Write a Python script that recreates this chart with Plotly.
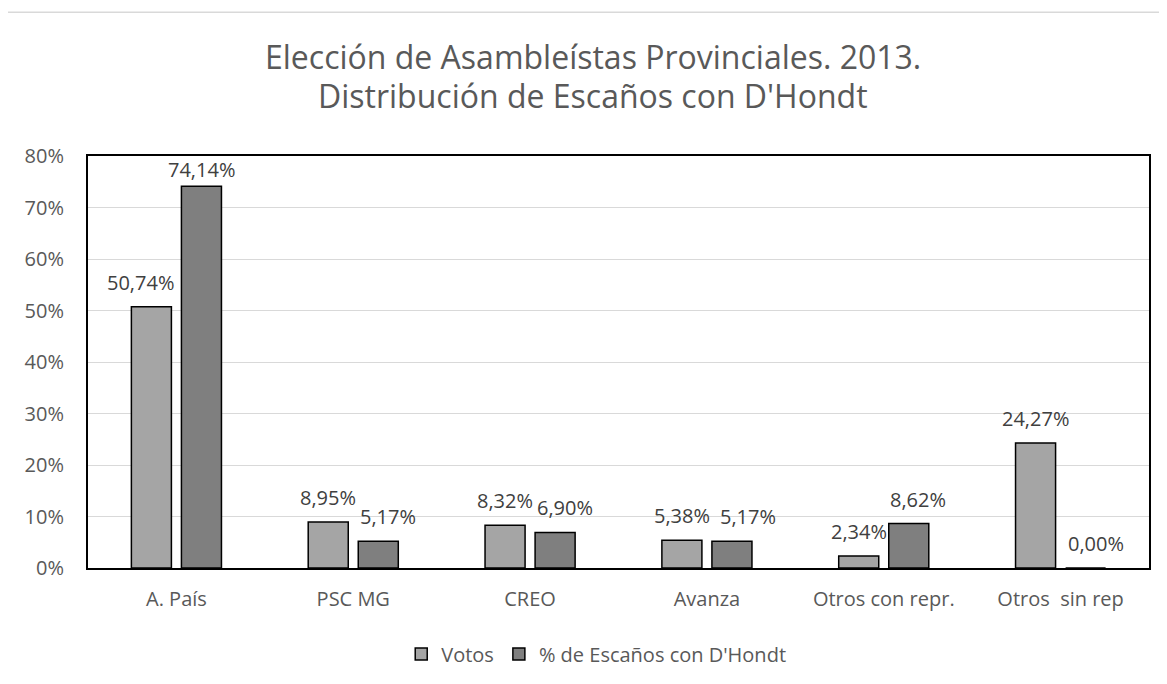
import plotly.graph_objects as go

categories = ["A. País", "PSC MG", "CREO", "Avanza", "Otros con repr.", "Otros  sin rep"]
votos = [50.74, 8.95, 8.32, 5.38, 2.34, 24.27]
escanos = [74.14, 5.17, 6.90, 5.17, 8.62, 0.00]
series_names = ["Votos", "% de Escaños con D'Hondt"]
y_ticks = [0, 10, 20, 30, 40, 50, 60, 70, 80]
y_ticktext = [f"{v}%" for v in y_ticks]

FONT = "Open Sans"
TXT = "#595959"

# small label nudges (px), as placed in the original chart
votos_dx = [-11, 0, 0, 0, 0, 0]
escanos_dx = [0, 10, 10, 16, 9, 10]
escanos_dy = [-8, 0, 0, 0, 0, 0]

fig = go.Figure()
fig.add_trace(go.Bar(x=categories, y=votos, name=series_names[0],
                     marker=dict(color="#a5a5a5", line=dict(color="#000000", width=1.5))))
fig.add_trace(go.Bar(x=categories, y=escanos, name=series_names[1],
                     marker=dict(color="#7f7f7f", line=dict(color="#000000", width=1.5))))

def fmt(v):
    return f"{v:.2f}%".replace(".", ",")

annotations = []
for i, (c, v) in enumerate(zip(categories, votos)):
    annotations.append(dict(x=c, y=v, xref="x", yref="y", text=fmt(v), showarrow=False,
                            xshift=-25 + votos_dx[i], yanchor="bottom", yshift=9,
                            font=dict(family=FONT, size=20, color="#404040")))
for i, (c, v) in enumerate(zip(categories, escanos)):
    annotations.append(dict(x=c, y=v, xref="x", yref="y", text=fmt(v), showarrow=False,
                            xshift=25 + escanos_dx[i], yanchor="bottom", yshift=9 + escanos_dy[i],
                            font=dict(family=FONT, size=20, color="#404040")))

annotations.append(dict(x=0.476, y=1.242, xref="paper", yref="paper", xanchor="center", yanchor="middle",
                        text="Elección de Asambleístas Provinciales. 2013.", showarrow=False,
                        font=dict(family=FONT, size=32, color=TXT)))
annotations.append(dict(x=0.476, y=1.148, xref="paper", yref="paper", xanchor="center", yanchor="middle",
                        text="Distribución de Escaños con D'Hondt", showarrow=False,
                        font=dict(family=FONT, size=32, color=TXT)))

fig.update_layout(
    width=1159, height=676,
    margin=dict(l=80, r=18, t=148, b=115),
    paper_bgcolor="white", plot_bgcolor="white",
    barmode="group", bargap=0.434, bargroupgap=0.2,
    font=dict(family=FONT, color=TXT, size=20),
    showlegend=True,
    legend=dict(orientation="h", x=0.479, xanchor="center", y=-0.206, yanchor="middle",
                font=dict(family=FONT, size=20, color=TXT), itemwidth=30),
    annotations=annotations,
    shapes=[dict(type="rect", xref="paper", yref="paper", x0=-0.0763, y0=-0.4, x1=1.05, y1=1.3487,
                 line=dict(color="#d9d9d9", width=1.5), layer="below")],
)
fig.update_yaxes(range=[0, 80], tickvals=y_ticks, ticktext=y_ticktext, showgrid=True, gridcolor="#d9d9d9",
                 gridwidth=1, showline=True, linecolor="#000000", linewidth=2, mirror=True,
                 zeroline=False, ticks="", ticklabelstandoff=18,
                 tickfont=dict(family=FONT, size=20, color=TXT))
fig.update_xaxes(showline=True, linecolor="#000000", linewidth=2, mirror=True, ticks="",
                 ticklabelstandoff=12, tickfont=dict(family=FONT, size=20, color=TXT))

fig.write_html("out.html")
